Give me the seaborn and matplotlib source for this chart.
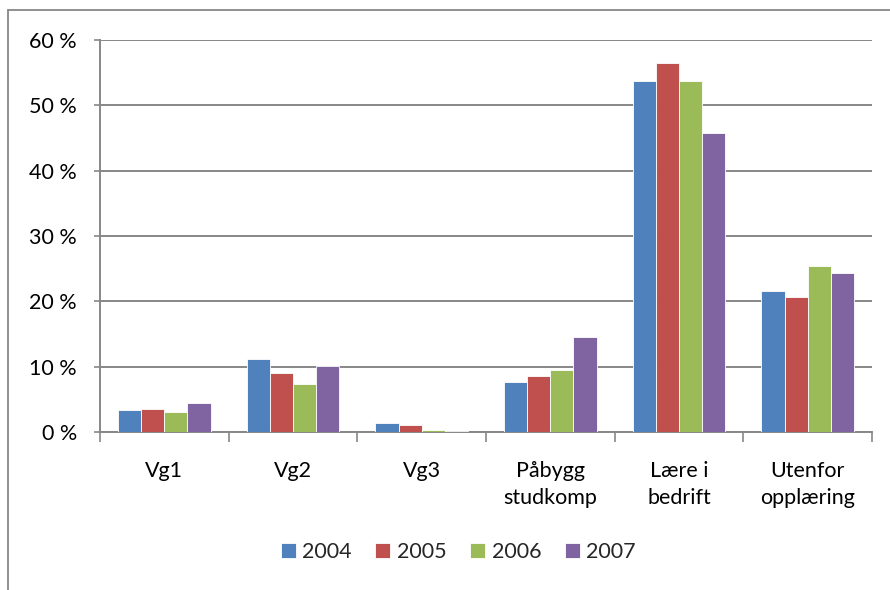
import matplotlib
matplotlib.use("Agg")
import matplotlib.pyplot as plt
from matplotlib.lines import Line2D
from matplotlib.ticker import FuncFormatter, FixedLocator
import seaborn as sns
import pandas as pd

categories = ["Vg1", "Vg2", "Vg3", "Påbygg\nstudkomp", "Lære i\nbedrift", "Utenfor\nopplæring"]
years = ["2004", "2005", "2006", "2007"]
v2004 = [3.4, 11.1, 1.45, 7.7, 53.8, 21.6]
v2005 = [3.5, 9.0, 1.05, 8.5, 56.5, 20.7]
v2006 = [3.1, 7.3, 0.25, 9.5, 53.7, 25.4]
v2007 = [4.4, 10.1, 0.1, 14.6, 45.8, 24.3]
colors = ["#4F81BD", "#C0504D", "#9BBB59", "#8064A2"]

rows = []
for year, vals in zip(years, [v2004, v2005, v2006, v2007]):
    for cat, v in zip(categories, vals):
        rows.append({"kategori": cat, "år": year, "andel": v})
df = pd.DataFrame(rows)

sns.set_style("white")
plt.rcParams['font.family'] = ['Lato', 'DejaVu Sans']
grid_col = "#878787"
fs = 15.5

fig = plt.figure(figsize=(8.9, 5.9), dpi=100)
ax = fig.add_axes([100 / 890, 1 - 432 / 590, 772 / 890, 392 / 590])

sns.barplot(data=df, x="kategori", y="andel", hue="år", palette=colors,
            width=0.72, gap=0, saturation=1, errorbar=None, ax=ax,
            edgecolor="white", linewidth=0.6, zorder=3)

ax.set_ylim(0, 60)
ax.set_xlim(-0.5, 5.5)
ax.set_yticks(range(0, 61, 10))
ax.yaxis.set_major_formatter(FuncFormatter(lambda v, p: f"{int(v)} %"))
ax.grid(axis="y", color=grid_col, linewidth=1.4, zorder=0)
ax.set_axisbelow(True)

for s in ["top", "right"]:
    ax.spines[s].set_visible(False)
for s in ["left", "bottom"]:
    ax.spines[s].set_color(grid_col)
    ax.spines[s].set_linewidth(1.4)

ax.tick_params(axis="y", which="major", left=True, length=4.5, width=1.2,
               color=grid_col, pad=12, labelsize=fs, labelcolor="black")
ax.xaxis.set_minor_locator(FixedLocator([i - 0.5 for i in range(7)]))
ax.tick_params(axis="x", which="minor", bottom=True, length=7, width=1.2,
               color=grid_col)
ax.tick_params(axis="x", which="major", bottom=False, length=0, pad=21,
               labelsize=fs, labelcolor="black")
for lbl in ax.get_xticklabels():
    lbl.set_linespacing(1.42)

ax.set_xlabel("")
ax.set_ylabel("")

handles, labels = ax.get_legend_handles_labels()
ax.legend_.remove()
fig.legend(handles, labels, loc="center", bbox_to_anchor=(0.515, 1 - 552 / 590),
           ncol=4, frameon=False, fontsize=fs, handlelength=0.7,
           handleheight=0.7, handletextpad=0.3, columnspacing=1.1)

# chart area border (left and top edges visible)
fig.add_artist(Line2D([8 / 890, 8 / 890], [0, 1 - 10 / 590], transform=fig.transFigure,
                      color=grid_col, linewidth=1.3))
fig.add_artist(Line2D([8 / 890, 1], [1 - 10 / 590, 1 - 10 / 590], transform=fig.transFigure,
                      color=grid_col, linewidth=1.3))

fig.savefig("out.png", dpi=100)
